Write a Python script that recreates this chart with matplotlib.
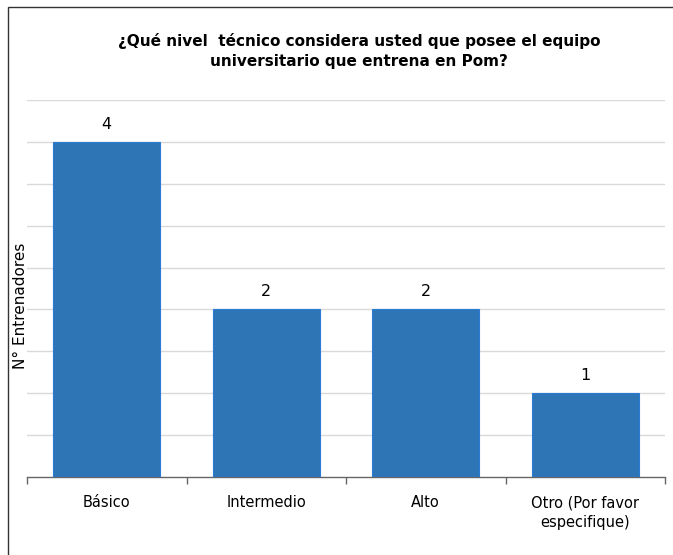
import matplotlib
matplotlib.use("Agg")
import matplotlib.pyplot as plt
from matplotlib.patches import Rectangle
import numpy as np

categories = ["Básico", "Intermedio", "Alto", "Otro (Por favor\nespecifique)"]
values = [4, 2, 2, 1]
title = "¿Qué nivel  técnico considera usted que posee el equipo\nuniversitario que entrena en Pom?"
ylabel = "N° Entrenadores"

plt.rcParams['font.family'] = ['DejaVu Sans']

fig = plt.figure(figsize=(6.73, 5.55), dpi=100)
fig.patches.append(Rectangle((8/673, -0.1), 1.2, 1 - 7/555 + 0.1, transform=fig.transFigure,
                             fill=False, edgecolor='#333333', linewidth=1.0))

ax = fig.add_axes([27/673, 1 - 477/555, (665 - 27)/673, (477 - 100)/555])
x = np.arange(len(categories))
bars = ax.bar(x, values, width=0.67, color='#2E75B6', edgecolor='#2A7BD6', linewidth=0.8, zorder=3)

ax.set_xlim(-0.5, len(categories) - 0.5)
ax.set_ylim(0, 4.5)
ax.set_yticks(np.arange(0.5, 4.51, 0.5))
ax.yaxis.grid(True, color='#D9D9D9', linewidth=1.0, zorder=0)
ax.tick_params(axis='y', length=0, labelleft=False)

ax.set_xticks(x)
ax.set_xticklabels(categories, fontsize=10.5, linespacing=1.45)
ax.set_xticks(np.arange(-0.5, len(categories)), minor=True)
ax.tick_params(axis='x', which='major', length=0, pad=13)
ax.tick_params(axis='x', which='minor', length=5, color='#666666', width=1)

for s in ['top', 'right', 'left']:
    ax.spines[s].set_visible(False)
ax.spines['bottom'].set_color('#666666')
ax.spines['bottom'].set_linewidth(1.0)

for xi, v in zip(x, values):
    ax.text(xi, v + 0.12, str(v), ha='center', va='bottom', fontsize=11.5)

fig.text(21/673, 1 - 306/555, ylabel, rotation=90, ha='center', va='center', fontsize=11)

fig.text(359/673, 1 - 51/555, title, ha='center', va='center', fontsize=11,
         fontweight='bold', linespacing=1.4)

fig.savefig("out.png", dpi=100)
